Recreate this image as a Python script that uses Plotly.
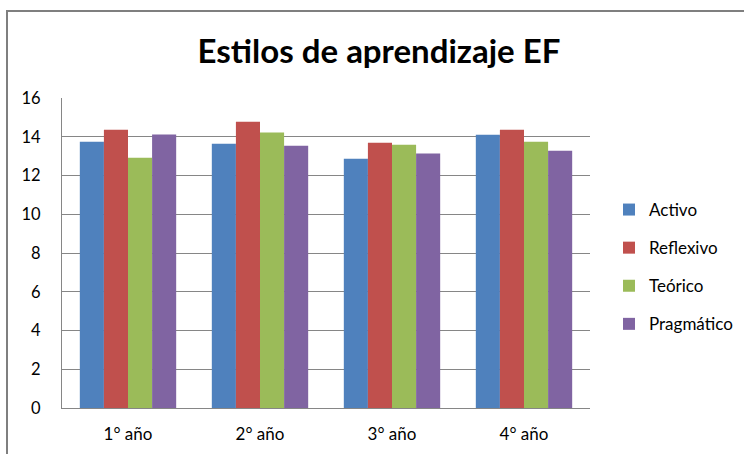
import plotly.graph_objects as go

categories = ["1° año", "2° año", "3° año", "4° año"]
activo = [13.74, 13.64, 12.87, 14.10]
reflexivo = [14.36, 14.77, 13.69, 14.36]
teorico = [12.92, 14.22, 13.59, 13.74]
pragmatico = [14.12, 13.54, 13.13, 13.28]
series_names = ["Activo", "Reflexivo", "Teórico", "Pragmático"]
colors = ["#4F81BD", "#C0504D", "#9BBB59", "#8064A2"]
y_ticks = [0, 2, 4, 6, 8, 10, 12, 14, 16]

FONT = "Lato"
fig = go.Figure()
for name, vals, col in zip(series_names, [activo, reflexivo, teorico, pragmatico], colors):
    fig.add_trace(go.Bar(x=categories, y=vals, name=name, marker_color=col,
                         marker_line_width=0, legendgroup=name))

fig.update_layout(
    width=744, height=454,
    margin=dict(l=62, r=154, t=98, b=46, autoexpand=False),
    paper_bgcolor="white", plot_bgcolor="white",
    barmode="group", bargap=0.27, bargroupgap=0,
    title=dict(text="<b>Estilos de aprendizaje EF</b>", x=379/744, xanchor="center",
               y=1 - 51/454, yanchor="middle",
               font=dict(family=FONT, size=33, color="black")),
    font=dict(family=FONT, size=16, color="black"),
    xaxis=dict(showline=True, linecolor="#868686", linewidth=1, ticks="",
               tickfont=dict(family=FONT, size=17), showgrid=False,
               ticklabelstandoff=11, automargin=False),
    yaxis=dict(range=[0, 16], tickvals=y_ticks, showgrid=True, gridcolor="#868686",
               gridwidth=1, showline=True, linecolor="#868686", linewidth=1,
               ticks="", tickfont=dict(family=FONT, size=16.5), zeroline=False,
               ticklabelstandoff=17, automargin=False),
    legend=dict(x=(609 - 62) / 528, xanchor="left", y=(408 - 267) / 310, yanchor="middle",
                font=dict(family=FONT, size=17), tracegroupgap=13, traceorder="grouped",
                bgcolor="rgba(0,0,0,0)"),
    shapes=[dict(type="rect", xref="paper", yref="paper",
                 x0=(7 - 62) / 528, x1=2.0, y0=-1.0, y1=1 + (98 - 11) / 310,
                 line=dict(color="#7F7F7F", width=2), fillcolor="rgba(0,0,0,0)", layer="below")],
)

fig.write_html("out.html", post_script="document.body.style.margin='0';",
               config={"displayModeBar": False})
